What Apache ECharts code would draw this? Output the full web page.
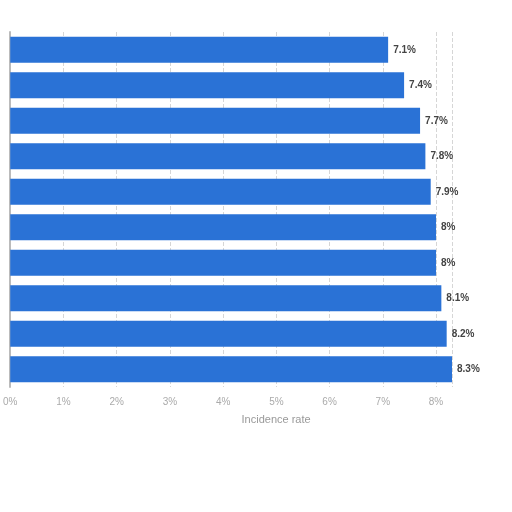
<!DOCTYPE html>
<html>
<head>
<meta charset="utf-8">
<script src="https://cdn.jsdelivr.net/npm/echarts@6/dist/echarts.min.js"></script>
<style>
  html, body { margin: 0; padding: 0; background: #fff; }
  #chart { width: 512px; height: 512px; }
</style>
</head>
<body>
<div id="chart"></div>
<script>
// rows top to bottom
var categories = ['1', '2', '3', '4', '5', '6', '7', '8', '9', '10'];
var rates = [7.1, 7.4, 7.7, 7.8, 7.9, 8, 8, 8.1, 8.2, 8.3];
var xTicks = [0, 1, 2, 3, 4, 5, 6, 7, 8];

var chart = echarts.init(document.getElementById('chart'));

chart.setOption({
  animation: false,
  grid: { left: 6, right: 60, top: 32, bottom: 125 },
  xAxis: {
    type: 'value',
    min: 0,
    max: 'dataMax',
    interval: 1,
    name: 'Incidence rate',
    nameLocation: 'middle',
    nameGap: 27,
    nameTextStyle: { color: '#999', fontSize: 11, padding: [0, 0, 0, 90] },
    axisLine: { show: false },
    axisTick: { show: false },
    axisLabel: {
      color: '#aaa', fontSize: 10, margin: 10,
      formatter: function (v) { return xTicks.indexOf(v) >= 0 ? v + '%' : ''; }
    },
    splitLine: { show: true, lineStyle: { color: '#d6d6d6', type: 'dashed', width: 1 } }
  },
  yAxis: {
    type: 'category',
    inverse: true,
    data: categories,
    axisLine: { show: true, lineStyle: { color: '#bbb', width: 2 } },
    axisTick: { show: false },
    axisLabel: { show: false }
  },
  series: [{
    type: 'bar',
    data: rates,
    barCategoryGap: '27%',
    itemStyle: { color: '#2a72d6' },
    label: {
      show: true,
      position: 'right',
      distance: 5,
      color: '#444',
      fontSize: 10,
      fontWeight: 'bold',
      formatter: function (p) { return p.value + '%'; }
    }
  }]
});
</script>
</body>
</html>
